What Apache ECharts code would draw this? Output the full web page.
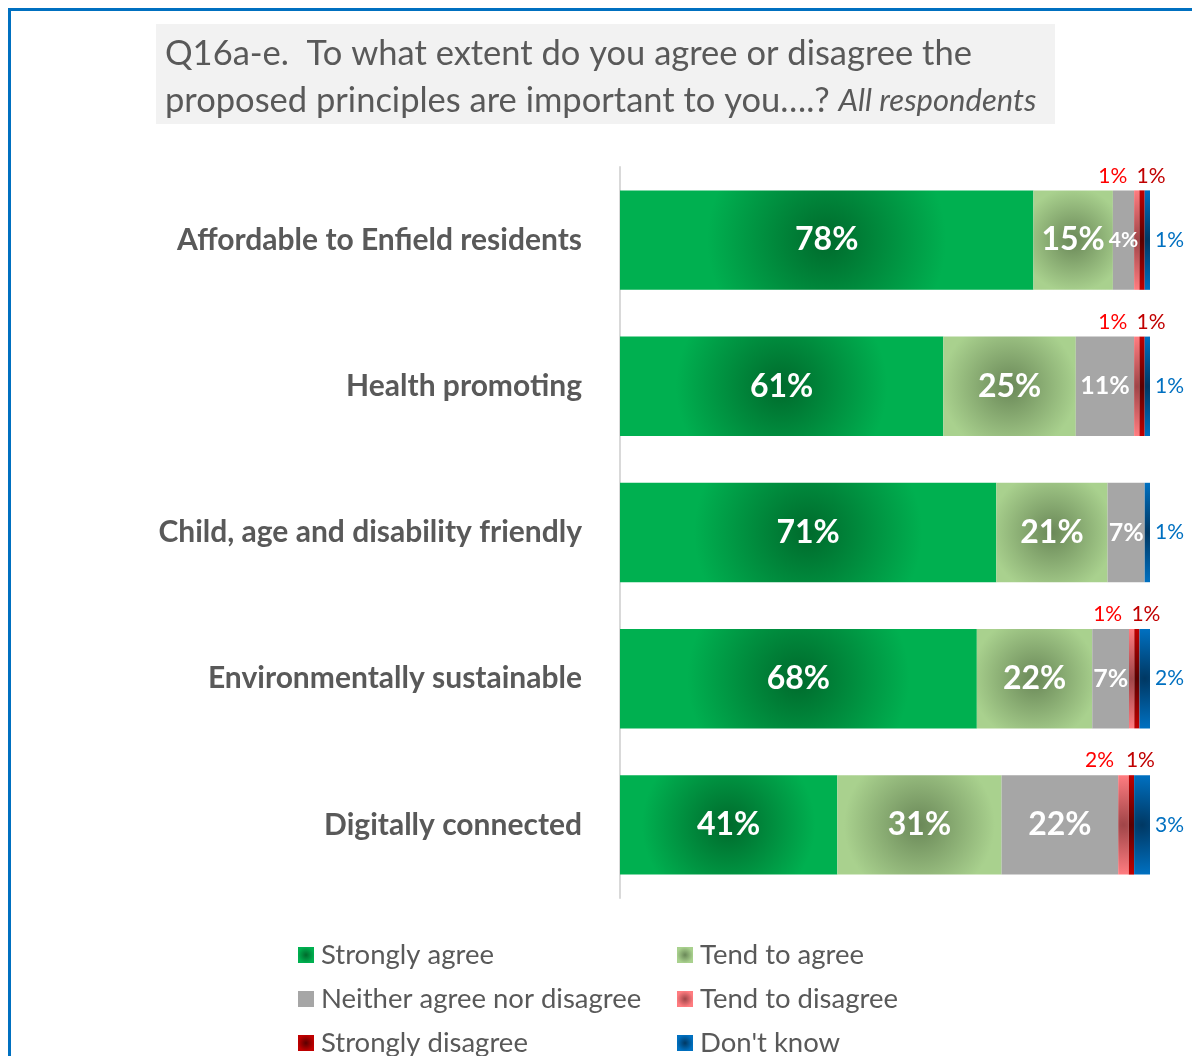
<!DOCTYPE html>
<html><head><meta charset="utf-8">
<script src="https://cdn.jsdelivr.net/npm/echarts@6/dist/echarts.min.js"></script>
<style>html,body{margin:0;padding:0;background:#fff}#c{width:1192px;height:1056px}</style>
</head><body><div id="c"></div>
<script>
// ---- data ----
const categories = ['Affordable to Enfield residents','Health promoting','Child, age and disability friendly','Environmentally sustainable','Digitally connected'];
const seriesNames = ['Strongly agree','Tend to agree','Neither agree nor disagree','Tend to disagree','Strongly disagree',"Don't know"];
const stronglyAgree = [78, 61, 71, 68, 41];
const tendAgree     = [15, 25, 21, 22, 31];
const neither       = [4, 11, 7, 7, 22];
const tendDisagree  = [1, 1, 0, 1, 2];
const stronglyDis   = [1, 1, 0, 1, 1];
const dontKnow      = [1, 1, 1, 2, 3];
const titleLine1 = 'Q16a-e.  To what extent do you agree or disagree the';
const titleLine2 = 'proposed principles are important to you….? ';
const titleNote = 'All respondents';

// ---- styling ----
const FONT = 'Lato';
const GRID = {left: 620, right: 42, top: 167, bottom: 158};
const plotW = 1192 - GRID.left - GRID.right;
const barH = 99;
const edge = ['#00B050','#A9D18E','#A6A6A6','#FF7C80','#C00000','#0070C0'];
const center = ['#006A2C','#6A8858','#A6A6A6','#A04548','#5A0000','#003863'];
const all = [stronglyAgree, tendAgree, neither, tendDisagree, stronglyDis, dontKnow];
const totals = categories.map((_, i) => all.reduce((s, a) => s + a[i], 0));

function radial(si, r) {
  if (edge[si] === center[si]) return edge[si];
  return {type:'radial', x:0.5, y:0.5, r:r, colorStops:[{offset:0,color:center[si]},{offset:1,color:edge[si]}]};
}
function itemColor(si, share) {
  const w = Math.max(share * plotW / 100, 1);
  const R = Math.max(barH / 2, Math.sqrt(w * barH) / 1.7);
  return radial(si, R / Math.min(w, barH));
}
function insideSize(v) { return v < 5 ? 21 : (v < 15 ? 25 : 32); }

const series = all.map((arr, si) => {
  const data = arr.map((v, i) => {
    const share = v * 100 / totals[i];
    const d = {value: share, raw: v, itemStyle: {color: itemColor(si, share)}};
    if (si < 3) d.label = {fontSize: insideSize(v)};
    return d;
  });
  let label;
  if (si < 3) {
    label = {show:true, position:'inside', color:'#fff', fontWeight:'bold', fontFamily:FONT};
  } else if (si === 3) {
    label = {show:true, position:'top', distance:4, offset:[-24,0], color:'#FF0000', fontSize:21, fontFamily:FONT};
  } else if (si === 4) {
    label = {show:true, position:'top', distance:4, offset:[9,0], color:'#C00000', fontSize:21, fontFamily:FONT};
  } else {
    label = {show:true, position:'right', distance:5, color:'#0070C0', fontSize:21, fontFamily:FONT};
  }
  label.formatter = p => p.data.raw ? p.data.raw + '%' : '';
  return {
    name: seriesNames[si], type:'bar', stack:'all', barCategoryGap:'32%',
    itemStyle: {color: radial(si, 0.5)},
    label: label, data: data, silent:true, animation:false
  };
});

const legendPos = [[298,941],[677,941],[298,985],[677,985],[298,1029],[677,1029]];
const legends = seriesNames.map((n, i) => ({
  left: legendPos[i][0], top: legendPos[i][1], orient:'horizontal', itemWidth:16, itemHeight:16, icon:'rect',
  padding:0, data:[n], selectedMode:false,
  textStyle:{color:'#595959', fontSize:27.5, fontFamily:FONT, lineHeight:27, padding:[0,0,0,2]}
}));

const chart = echarts.init(document.getElementById('c'), null, {renderer:'canvas'});
chart.setOption({
  animation:false,
  backgroundColor:'#fff',
  grid: GRID,
  xAxis: {type:'value', min:0, max:100, show:false},
  yAxis: {type:'category', inverse:true, data:categories,
    axisLine:{show:true, lineStyle:{color:'#D9D9D9', width:2}},
    axisTick:{show:false},
    axisLabel:{color:'#595959', fontSize:30, fontWeight:'bold', fontFamily:FONT, margin:38}},
  legend: legends,
  graphic: [
    {type:'text', left:10, top:-16, style:{text:'Chart 9', font:'bold 20px '+FONT, fill:'#000'}},
    {type:'rect', shape:{x:8, y:8, width:1184, height:3}, style:{fill:'#0070C0'}},
    {type:'rect', shape:{x:8, y:8, width:3, height:1048}, style:{fill:'#0070C0'}},
    {type:'rect', shape:{x:156, y:24, width:899, height:100}, style:{fill:'#F2F2F2'}},
    {type:'text', x:165, y:30, style:{
      text:'{a|' + titleLine1 + '}\n{a|' + titleLine2 + '}{b|' + titleNote + '}',
      verticalAlign:'top',
      rich:{
        a:{fontSize:34.5, fontFamily:FONT, fill:'#595959', lineHeight:47},
        b:{fontSize:31, fontStyle:'italic', fontFamily:FONT, fill:'#595959', lineHeight:47}
      }}}
  ],
  series: series
});
</script>
</body></html>
